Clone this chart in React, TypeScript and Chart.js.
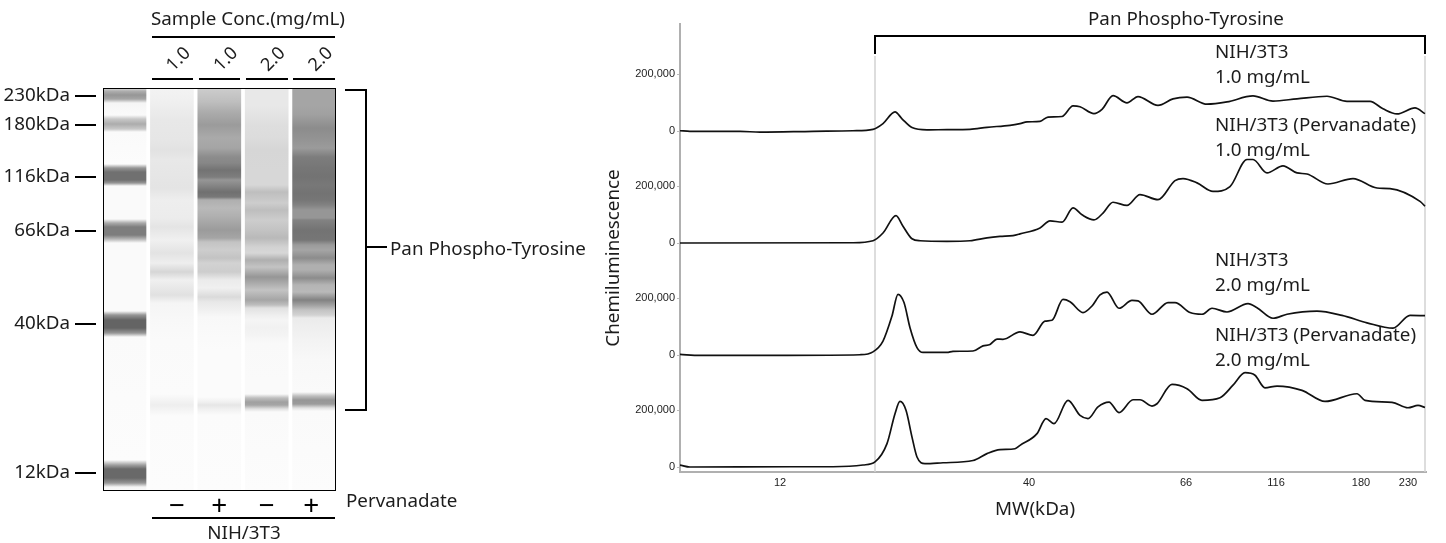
import React, { useEffect, useRef } from "react";
import { Chart, registerables } from "chart.js";

Chart.register(...registerables);

// ---------- gel ----------
const laneSlots = [0, 1, 2, 3, 4];
const laneSpan: [number, number] = [0, 402];
const mwTickValues = [8, 37, 89, 143, 236, 385];
const mwTickLabels = ["230kDa", "180kDa", "116kDa", "66kDa", "40kDa", "12kDa"];
const concTicks = [1, 2, 3, 4];
const concLabels = ["1.0", "1.0", "2.0", "2.0"];
const pervanadateTicks = [1.11, 2, 3, 3.94];
const pervanadateLabels = ["−", "+", "−", "+"];

const ladderProfile: [number, number][] = [[0, 225], [3, 175], [7, 150], [11, 165], [15, 245], [27, 250], [31, 200], [36, 172], [41, 200], [44, 250], [76, 252], [80, 150], [84, 112], [92, 112], [95, 150], [98, 250], [131, 250], [135, 170], [139, 125], [147, 125], [151, 180], [155, 250], [223, 250], [227, 150], [232, 100], [240, 100], [245, 150], [249, 250], [372, 252], [377, 160], [381, 105], [390, 105], [395, 150], [399, 245], [402, 250]];
const lane1Profile: [number, number][] = [[0, 243], [12, 240], [32, 232], [52, 230], [62, 226], [72, 232], [100, 228], [112, 238], [130, 236], [139, 228], [152, 240], [165, 227], [175, 238], [184, 214], [192, 240], [207, 225], [215, 245], [232, 248], [252, 250], [306, 251], [312, 244], [317, 238], [322, 244], [328, 251], [402, 252]];
const lane2Profile: [number, number][] = [[0, 205], [14, 190], [24, 172], [37, 155], [50, 170], [60, 165], [69, 140], [75, 135], [82, 115], [89, 125], [92, 150], [97, 135], [104, 112], [109, 120], [112, 175], [120, 185], [129, 175], [132, 170], [142, 155], [150, 165], [154, 195], [162, 205], [170, 195], [175, 210], [184, 205], [192, 235], [200, 240], [209, 218], [214, 232], [222, 240], [229, 248], [262, 251], [309, 251], [314, 240], [317, 230], [321, 240], [327, 251], [402, 252]];
const lane3Profile: [number, number][] = [[0, 232], [17, 232], [37, 222], [50, 220], [62, 214], [82, 215], [97, 215], [104, 190], [110, 198], [115, 205], [122, 190], [132, 205], [142, 195], [150, 185], [159, 210], [165, 215], [172, 175], [179, 195], [189, 150], [195, 170], [202, 195], [212, 165], [217, 190], [220, 225], [227, 238], [232, 245], [240, 241], [247, 244], [255, 249], [292, 250], [306, 250], [310, 190], [314, 160], [317, 165], [321, 225], [324, 250], [402, 252]];
const lane4Profile: [number, number][] = [[0, 165], [17, 165], [27, 160], [40, 140], [52, 148], [60, 155], [69, 125], [80, 118], [89, 115], [97, 120], [105, 115], [112, 118], [117, 130], [122, 150], [130, 150], [132, 130], [142, 115], [152, 118], [157, 155], [162, 165], [170, 140], [177, 175], [182, 175], [190, 140], [197, 180], [204, 185], [212, 130], [217, 160], [222, 195], [227, 210], [230, 235], [252, 243], [272, 248], [304, 250], [308, 190], [312, 150], [316, 155], [320, 225], [323, 250], [402, 252]];
const laneProfiles = [ladderProfile, lane1Profile, lane2Profile, lane3Profile, lane4Profile];

// ---------- electropherograms ----------
const mwAxisPositions = [100, 349, 506, 596, 681, 728];
const mwAxisLabels = ["12", "40", "66", "116", "180", "230"];

const trace1Pos = [0, 10, 60, 80, 133, 173, 193, 203, 215, 222, 232, 247, 267, 290, 307, 330, 340, 347, 360, 368, 382, 393, 400, 414, 422, 433, 447, 458, 478, 493, 507, 527, 547, 573, 593, 617, 647, 667, 690, 703, 717, 735, 745];
const trace1Signal = [1000, -1000, -1000, -4000, -1000, 1000, 6000, 26000, 67000, 43000, 12000, 4000, 5000, 6000, 13000, 20000, 26000, 32000, 34000, 49000, 51000, 88000, 85000, 61000, 76000, 124000, 99000, 121000, 90000, 113000, 119000, 94000, 102000, 123000, 105000, 113000, 122000, 104000, 104000, 78000, 60000, 81000, 61000];

const trace2Pos = [0, 173, 193, 203, 216, 223, 232, 240, 267, 290, 307, 320, 333, 340, 360, 370, 382, 393, 402, 414, 423, 433, 447, 460, 478, 495, 503, 517, 533, 550, 567, 573, 587, 603, 617, 627, 648, 673, 697, 710, 740, 745];
const trace2Signal = [0, 1000, 8000, 35000, 96000, 59000, 15000, 8000, 6000, 8000, 18000, 23000, 26000, 32000, 53000, 78000, 73000, 123000, 99000, 81000, 105000, 143000, 132000, 170000, 152000, 219000, 226000, 211000, 181000, 198000, 293000, 293000, 246000, 271000, 246000, 242000, 207000, 226000, 193000, 191000, 146000, 129000];

const trace3Pos = [0, 20, 107, 180, 193, 203, 212, 218, 224, 230, 237, 243, 267, 273, 293, 303, 310, 317, 323, 340, 353, 365, 372, 383, 390, 403, 412, 420, 427, 439, 452, 458, 472, 488, 495, 510, 522, 532, 547, 568, 577, 593, 607, 637, 662, 687, 713, 730, 745];
const trace3Signal = [2000, -1000, -1000, 1000, 11000, 49000, 137000, 213000, 184000, 96000, 26000, 9000, 9000, 13000, 14000, 32000, 37000, 56000, 55000, 81000, 69000, 119000, 122000, 195000, 187000, 149000, 172000, 211000, 221000, 164000, 192000, 190000, 143000, 184000, 184000, 149000, 143000, 164000, 151000, 180000, 166000, 129000, 143000, 154000, 139000, 113000, 94000, 139000, 138000];

const trace4Pos = [0, 10, 110, 153, 183, 195, 207, 215, 220, 226, 232, 237, 245, 263, 293, 307, 320, 335, 340, 357, 366, 374, 388, 400, 408, 418, 429, 439, 453, 460, 472, 477, 492, 507, 522, 540, 553, 565, 575, 585, 597, 622, 645, 677, 685, 712, 728, 738, 745];
const trace4Signal = [7000, 0, 1000, 1000, 7000, 18000, 82000, 187000, 230000, 199000, 105000, 35000, 12000, 15000, 23000, 47000, 61000, 64000, 76000, 117000, 170000, 152000, 234000, 181000, 170000, 211000, 228000, 191000, 236000, 236000, 214000, 222000, 290000, 275000, 234000, 243000, 287000, 331000, 322000, 278000, 284000, 269000, 230000, 257000, 234000, 227000, 208000, 216000, 209000];

const tracePos = [trace1Pos, trace2Pos, trace3Pos, trace4Pos];
const traceSignal = [trace1Signal, trace2Signal, trace3Signal, trace4Signal];
const traceNames = ["NIH/3T3 1.0 mg/mL", "NIH/3T3 (Pervanadate) 1.0 mg/mL", "NIH/3T3 2.0 mg/mL", "NIH/3T3 (Pervanadate) 2.0 mg/mL"];
const signalTicks = [0, 200000];

const TEXT_FONT = '"Noto Sans", sans-serif';
const SMALL_FONT = '"Liberation Sans", Arial, sans-serif';
const INK = "#1c1c1c";
const TEXT_SIZE = 18.8;

function laneGradient(chart: any, profile: [number, number][]) {
  const y = chart.scales.y;
  if (!chart.chartArea || !y) return "#fcfcfc";
  const top = y.getPixelForValue(laneSpan[0]);
  const bottom = y.getPixelForValue(laneSpan[1]);
  const g = chart.ctx.createLinearGradient(0, top, 0, bottom);
  for (const [pos, grey] of profile) {
    g.addColorStop(pos / laneSpan[1], `rgb(${grey},${grey},${grey})`);
  }
  return g;
}

function hline(ctx: any, x0: number, x1: number, y: number, w = 2, color = "#000") {
  ctx.fillStyle = color;
  ctx.fillRect(x0, y - w / 2, x1 - x0, w);
}
function vline(ctx: any, x: number, y0: number, y1: number, w = 2, color = "#000") {
  ctx.fillStyle = color;
  ctx.fillRect(x - w / 2, y0, w, y1 - y0);
}
function label(ctx: any, s: string, x: number, y: number, align: CanvasTextAlign = "left", size = TEXT_SIZE) {
  ctx.font = `${size}px ${TEXT_FONT}`;
  ctx.fillStyle = INK;
  ctx.textAlign = align;
  ctx.textBaseline = "middle";
  ctx.fillText(s, x, y);
}

const gelAnnotations = {
  id: "gelAnnotations",
  afterDraw(chart: any) {
    const { ctx, chartArea: a } = chart;
    const y = chart.scales.y;
    ctx.save();
    ctx.strokeStyle = "#000";
    ctx.lineWidth = 1;
    ctx.strokeRect(a.left + 0.5, a.top + 0.5, a.right - a.left, a.bottom - a.top);
    for (const t of y.ticks) hline(ctx, 75, 96, Math.round(y.getPixelForValue(t.value)), 2);
    hline(ctx, 152, 335, 37);
    hline(ctx, 152, 193, 79);
    hline(ctx, 199, 240, 79);
    hline(ctx, 246, 288, 79);
    hline(ctx, 293, 335, 79);
    hline(ctx, 152, 335, 518);
    hline(ctx, 345, 367, 90);
    hline(ctx, 345, 367, 410);
    vline(ctx, 366, 89, 411);
    hline(ctx, 366, 387, 247);
    label(ctx, "Sample Conc.(mg/mL)", 151, 20);
    label(ctx, "Pan Phospho-Tyrosine", 390, 250);
    label(ctx, "Pervanadate", 346, 502);
    label(ctx, "NIH/3T3", 244, 534, "center");
    ctx.restore();
  },
};

const OFFSET = 590;
const traceAnnotations = {
  id: "traceAnnotations",
  beforeDatasetsDraw(chart: any) {
    const { ctx } = chart;
    const x = chart.scales.x;
    ctx.save();
    vline(ctx, x.getPixelForValue(195), 56, 472, 1.5, "#d2d2d2");
    vline(ctx, x.getPixelForValue(745), 56, 472, 1.5, "#d2d2d2");
    ctx.restore();
  },
  afterDraw(chart: any) {
    const { ctx } = chart;
    const x = chart.scales.x;
    const l = x.getPixelForValue(195);
    const r = x.getPixelForValue(745);
    ctx.save();
    hline(ctx, l - 1, r + 1, 36);
    vline(ctx, l, 35, 54);
    vline(ctx, r, 35, 54);
    label(ctx, "Pan Phospho-Tyrosine", 1088 - OFFSET, 20);
    const tx = 1215 - OFFSET;
    label(ctx, "NIH/3T3", tx, 53);
    label(ctx, "1.0 mg/mL", tx, 78);
    label(ctx, "NIH/3T3 (Pervanadate)", tx, 126);
    label(ctx, "1.0 mg/mL", tx, 151);
    label(ctx, "NIH/3T3", tx, 261);
    label(ctx, "2.0 mg/mL", tx, 286);
    label(ctx, "NIH/3T3 (Pervanadate)", tx, 336);
    label(ctx, "2.0 mg/mL", tx, 361);
    label(ctx, "MW(kDa)", 1035 - OFFSET, 510, "center");
    ctx.translate(614 - OFFSET, 258);
    ctx.rotate(-Math.PI / 2);
    label(ctx, "Chemiluminescence", 0, 0, "center");
    ctx.restore();
  },
};

export default function App() {
  const gelRef = useRef<HTMLCanvasElement>(null);
  const traceRef = useRef<HTMLCanvasElement>(null);

  useEffect(() => {
    const xMin = -0.454;
    const xMax = 4.441;
    const gel = new Chart(gelRef.current!, {
      type: "bar",
      data: {
        datasets: [
          {
            label: "Gel lanes",
            data: laneSlots.map((s) => ({ x: s, y: laneSpan })) as any,
            barThickness: 43,
            borderWidth: 0,
            backgroundColor: (c: any) => laneGradient(c.chart, laneProfiles[c.dataIndex] ?? ladderProfile),
          },
        ],
      },
      options: {
        responsive: false,
        animation: false,
        events: [],
        layout: { padding: { right: 255 } },
        plugins: { legend: { display: false }, tooltip: { enabled: false } },
        scales: {
          x: {
            type: "linear",
            position: "bottom",
            offset: false,
            min: xMin,
            max: xMax,
            afterFit: (s: any) => { s.height = 53; },
            afterBuildTicks: (s: any) => { s.ticks = pervanadateTicks.map((value) => ({ value })); },
            grid: { display: false, drawTicks: false, offset: false },
            border: { display: false },
            ticks: {
              autoSkip: false,
              maxRotation: 0,
              padding: 0,
              color: "#000",
              font: { family: TEXT_FONT, size: 28 },
              callback: (v: any) => pervanadateLabels[pervanadateTicks.indexOf(v)],
            },
          },
          xTop: {
            type: "linear",
            position: "top",
            offset: false,
            min: xMin,
            max: xMax,
            afterFit: (s: any) => { s.height = 88; },
            afterBuildTicks: (s: any) => { s.ticks = concTicks.map((value) => ({ value })); },
            grid: { display: false, drawTicks: false, offset: false },
            border: { display: false },
            ticks: {
              autoSkip: false,
              minRotation: 45,
              maxRotation: 45,
              padding: 12,
              labelOffset: 13,
              color: INK,
              font: { family: TEXT_FONT, size: 18 },
              callback: (v: any) => concLabels[concTicks.indexOf(v)],
            },
          },
          y: {
            type: "linear",
            reverse: true,
            min: laneSpan[0],
            max: laneSpan[1],
            afterFit: (s: any) => { s.width = 103; },
            afterBuildTicks: (s: any) => { s.ticks = mwTickValues.map((value) => ({ value })); },
            grid: { display: false, drawTicks: false },
            border: { display: false },
            ticks: {
              autoSkip: false,
              padding: 33,
              color: INK,
              font: { family: TEXT_FONT, size: TEXT_SIZE },
              callback: (v: any) => mwTickLabels[mwTickValues.indexOf(v)],
            },
          },
        },
      } as any,
      plugins: [gelAnnotations],
    });

    const yScale = (i: number) => ({
      type: "linear",
      stack: "traces",
      position: "left",
      stackWeight: 1,
      weight: i,
      min: -17500,
      max: 375500,
      afterFit: (s: any) => { s.width = 90; },
      afterBuildTicks: (s: any) => { s.ticks = signalTicks.map((value) => ({ value })); },
      grid: { drawOnChartArea: false, tickLength: 3, color: "#bbb" },
      border: { color: "#b0b0b0", width: 2 },
      ticks: {
        autoSkip: false,
        padding: 2,
        color: "#222",
        font: { family: SMALL_FONT, size: 11 },
        callback: (v: any) => Number(v).toLocaleString("en-US"),
      },
    });

    const trace = new Chart(traceRef.current!, {
      type: "line",
      data: {
        datasets: tracePos.map((pos, i) => ({
          label: traceNames[i],
          yAxisID: `y${i + 1}`,
          data: pos.map((x, j) => ({ x, y: traceSignal[i][j] })),
          borderColor: "#111",
          borderWidth: 1.7,
          pointRadius: 0,
          cubicInterpolationMode: "monotone",
          fill: false,
        })),
      },
      options: {
        responsive: false,
        animation: false,
        events: [],
        layout: { padding: { top: 24, right: 20 } },
        plugins: { legend: { display: false }, tooltip: { enabled: false } },
        scales: {
          x: {
            type: "linear",
            min: 0,
            max: 746,
            afterFit: (s: any) => { s.height = 71; },
            afterBuildTicks: (s: any) => { s.ticks = mwAxisPositions.map((value) => ({ value })); },
            grid: { display: false, drawTicks: false },
            border: { color: "#b0b0b0", width: 2 },
            ticks: {
              autoSkip: false,
              maxRotation: 0,
              padding: 4,
              color: "#222",
              font: { family: SMALL_FONT, size: 11 },
              callback: (v: any) => mwAxisLabels[mwAxisPositions.indexOf(v)],
            },
          },
          y1: yScale(4),
          y2: yScale(3),
          y3: yScale(2),
          y4: yScale(1),
        },
      } as any,
      plugins: [traceAnnotations],
    });

    return () => {
      gel.destroy();
      trace.destroy();
    };
  }, []);

  return (
    <div style={{ position: "absolute", left: 0, top: 0, width: 1446, height: 543, background: "#fff", overflow: "hidden" }}>
      <canvas ref={gelRef} width={590} height={543} style={{ position: "absolute", left: 0, top: 0, width: 590, height: 543 }} />
      <canvas ref={traceRef} width={856} height={543} style={{ position: "absolute", left: OFFSET, top: 0, width: 856, height: 543 }} />
    </div>
  );
}
